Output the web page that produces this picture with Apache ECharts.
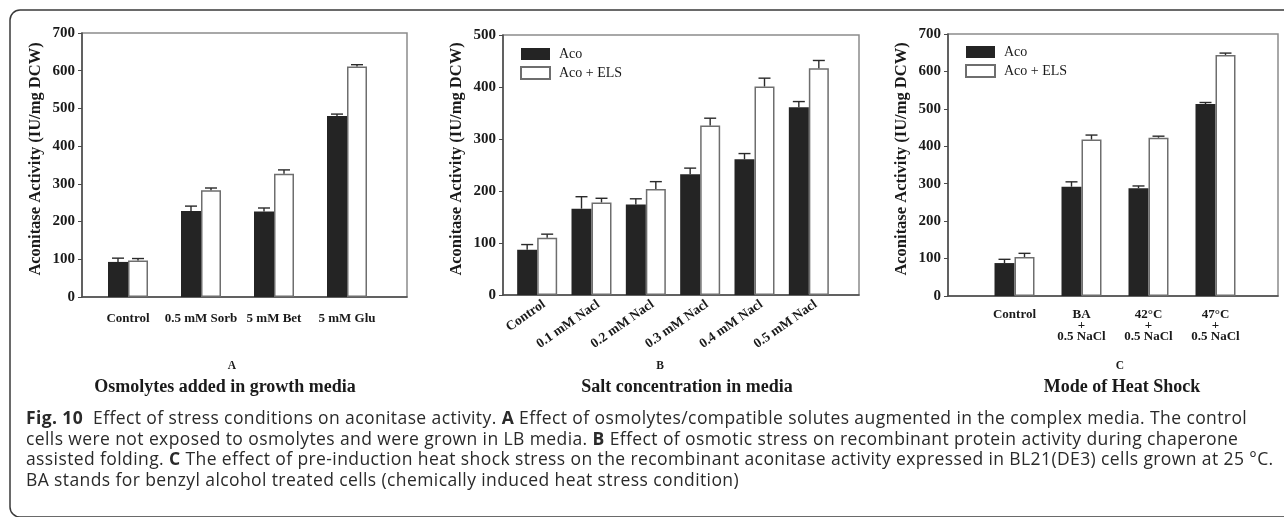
<!DOCTYPE html>
<html>
<head>
<meta charset="utf-8">
<script src="https://cdn.jsdelivr.net/npm/echarts@6/dist/echarts.min.js"></script>
<style>
  html, body { margin: 0; padding: 0; background: #fff; }
  #chart { position: absolute; left: 0; top: 0; width: 1284px; height: 517px; }
  #caption {
    position: absolute; left: 26px; top: 407px;
    font-family: "Open Sans", Lato, sans-serif;
    font-size: 17.5px; letter-spacing: 0.4px; line-height: 20.6px; color: #2a2a2a; white-space: nowrap;
  }
  #caption b { font-weight: bold; }
</style>
</head>
<body>
<div id="chart"></div>
<div id="caption">
  <div><b>Fig. 10</b>&nbsp; Effect of stress conditions on aconitase activity. <b>A</b> Effect of osmolytes/compatible solutes augmented in the complex media. The control</div>
  <div>cells were not exposed to osmolytes and were grown in LB media. <b>B</b> Effect of osmotic stress on recombinant protein activity during chaperone</div>
  <div>assisted folding. <b>C</b> The effect of pre-induction heat shock stress on the recombinant aconitase activity expressed in BL21(DE3) cells grown at 25 °C.</div>
  <div>BA stands for benzyl alcohol treated cells (chemically induced heat stress condition)</div>
</div>
<script>
// Panel A: osmolytes added in growth media
const catsA = ['Control', '0.5 mM Sorb', '5 mM Bet', '5 mM Glu'];
const acoA = [93, 228, 227, 480];
const acoErrA = [10, 13, 9, 5];
const elsA = [97, 283, 327, 611];
const elsErrA = [5, 6, 10, 5];
const ticksA = [0, 700, 100];

// Panel B: salt concentration in media
const catsB = ['Control', '0.1 mM Nacl', '0.2 mM Nacl', '0.3 mM Nacl', '0.4 mM Nacl', '0.5 mM Nacl'];
const acoB = [87, 166, 174, 232, 261, 361];
const acoErrB = [10, 23, 11, 12, 11, 11];
const elsB = [110, 178, 204, 326, 401, 436];
const elsErrB = [7, 8, 14, 14, 16, 15];
const ticksB = [0, 500, 100];

// Panel C: mode of heat shock
const catsC = ['Control', 'BA\n+\n0.5 NaCl', '42°C\n+\n0.5 NaCl', '47°C\n+\n0.5 NaCl'];
const acoC = [88, 292, 288, 513];
const acoErrC = [10, 13, 6, 4];
const elsC = [104, 418, 423, 644];
const elsErrC = [10, 12, 4, 5];
const ticksC = [0, 700, 100];

const seriesNames = ['Aco', 'Aco + ELS'];
const yName = 'Aconitase Activity (IU/mg DCW)';

const SERIF = '"Liberation Serif", "Times New Roman", serif';
const BAR_W = 20;
const CAP_HALF = 6;
const AXIS_COLOR = '#4a4a4a';
const FRAME_COLOR = '#8c8c8c';
const DARK = '#242424';
const TEXT = '#1a1a1a';

// Pixel layout of each panel: frame box, the band that holds the bar groups,
// and a small horizontal shift for the category labels
const panels = [
  { cats: catsA, aco: acoA, acoErr: acoErrA, els: elsA, elsErr: elsErrA, ticks: ticksA,
    frame: { left: 82, top: 33, width: 325, height: 264 },
    band: { left: 91.5, width: 292 }, labelShift: 0,
    labelMargin: 16, rotate: 0, labelSize: 13, legend: null },
  { cats: catsB, aco: acoB, acoErr: acoErrB, els: elsB, elsErr: elsErrB, ticks: ticksB,
    frame: { left: 503, top: 35, width: 356, height: 260 },
    band: { left: 510, width: 326 }, labelShift: 7,
    labelMargin: 8, rotate: 35, labelSize: 13.5, legend: { left: 520, top: 47 } },
  { cats: catsC, aco: acoC, acoErr: acoErrC, els: elsC, elsErr: elsErrC, ticks: ticksC,
    frame: { left: 948, top: 34, width: 330, height: 262 },
    band: { left: 981, width: 268 }, labelShift: 0,
    labelMargin: 13, rotate: 0, labelSize: 13, legend: { left: 965, top: 45 } }
];

const grid = [], xAxis = [], yAxis = [], series = [], legend = [];

function errorSeries(gi, values, errs, offset) {
  return {
    type: 'custom',
    xAxisIndex: gi, yAxisIndex: gi,
    silent: true, z: 5,
    data: values.map((v, i) => [i, v, errs[i]]),
    renderItem: function (params, api) {
      const base = api.coord([api.value(0), api.value(1)]);
      const top = api.coord([api.value(0), api.value(1) + api.value(2)]);
      const x = base[0] + offset;
      const st = { stroke: '#2a2a2a', lineWidth: 1.4 };
      return {
        type: 'group',
        children: [
          { type: 'line', shape: { x1: x, y1: base[1], x2: x, y2: top[1] }, style: st },
          { type: 'line', shape: { x1: x - CAP_HALF, y1: top[1], x2: x + CAP_HALF, y2: top[1] }, style: st }
        ]
      };
    }
  };
}

panels.forEach((p, k) => {
  const fi = k * 3, bi = k * 3 + 1, li = k * 3 + 2;
  // frame grid: y scale, axis lines and grey box
  grid.push({ left: p.frame.left, top: p.frame.top, width: p.frame.width, height: p.frame.height,
    show: true, borderColor: FRAME_COLOR, borderWidth: 1.5, backgroundColor: 'transparent' });
  // band grid: where the grouped bars sit
  grid.push({ left: p.band.left, top: p.frame.top, width: p.band.width, height: p.frame.height });
  // label grid: category names under each group
  grid.push({ left: p.band.left + p.labelShift, top: p.frame.top, width: p.band.width, height: p.frame.height });

  xAxis.push({ gridIndex: fi, type: 'value', min: 0, max: 1,
    axisLine: { show: true, lineStyle: { color: AXIS_COLOR, width: 1.5 } },
    axisTick: { show: false }, axisLabel: { show: false }, splitLine: { show: false } });
  xAxis.push({ gridIndex: bi, type: 'category', data: p.cats,
    axisLine: { show: false }, axisTick: { show: false }, axisLabel: { show: false } });
  xAxis.push({ gridIndex: li, type: 'category', data: p.cats,
    axisLine: { show: false }, axisTick: { show: false },
    axisLabel: { interval: 0, rotate: p.rotate, margin: p.labelMargin,
      fontFamily: SERIF, fontWeight: 'bold', fontSize: p.labelSize, color: TEXT, lineHeight: 11 } });

  yAxis.push({ gridIndex: fi, type: 'value', min: p.ticks[0], max: p.ticks[1], interval: p.ticks[2],
    name: yName, nameLocation: 'middle', nameGap: 38,
    nameTextStyle: { fontFamily: SERIF, fontWeight: 'bold', fontSize: 16.5, color: TEXT,
      padding: [0, 0, 0, 12] },
    axisLine: { show: true, lineStyle: { color: AXIS_COLOR, width: 1.5 } },
    axisTick: { show: true, inside: false, length: 4, lineStyle: { color: AXIS_COLOR } },
    axisLabel: { margin: 7, fontFamily: SERIF, fontWeight: 'bold', fontSize: 15, color: TEXT },
    splitLine: { show: false } });
  yAxis.push({ gridIndex: bi, type: 'value', min: p.ticks[0], max: p.ticks[1], interval: p.ticks[2],
    show: false, splitLine: { show: false } });
  yAxis.push({ gridIndex: li, type: 'value', min: p.ticks[0], max: p.ticks[1], interval: p.ticks[2],
    show: false, splitLine: { show: false } });

  series.push({ name: seriesNames[0], type: 'bar', xAxisIndex: bi, yAxisIndex: bi,
    data: p.aco, barWidth: BAR_W, barGap: '0%',
    itemStyle: { color: DARK, borderColor: DARK, borderWidth: 0 } });
  series.push({ name: seriesNames[1], type: 'bar', xAxisIndex: bi, yAxisIndex: bi,
    data: p.els, barWidth: BAR_W, barGap: '0%',
    itemStyle: { color: '#ffffff', borderColor: '#6e6e6e', borderWidth: 1.5 } });
  series.push(errorSeries(bi, p.aco, p.acoErr, -BAR_W / 2));
  series.push(errorSeries(bi, p.els, p.elsErr, BAR_W / 2));

  if (p.legend) {
    legend.push({ left: p.legend.left, top: p.legend.top, orient: 'vertical', padding: 0,
      data: seriesNames, icon: 'rect', itemWidth: 29, itemHeight: 12, itemGap: 5,
      selectedMode: false,
      textStyle: { fontFamily: SERIF, fontSize: 14, color: TEXT, padding: [0, 0, 0, 4] } });
  }
});

// panel letters and titles below each chart
const panelTitles = [
  { letter: 'A', lx: 232, title: 'Osmolytes added in growth media', tx: 225 },
  { letter: 'B', lx: 660, title: 'Salt concentration in media', tx: 687 },
  { letter: 'C', lx: 1120, title: 'Mode of Heat Shock', tx: 1122 }
];
const graphic = [
  { type: 'rect', silent: true, shape: { x: 10, y: 10, width: 1300, height: 507, r: 10 },
    style: { fill: 'none', stroke: '#3a3a3a', lineWidth: 1.5 } }
];
panelTitles.forEach(t => {
  graphic.push({ type: 'text', x: t.lx, y: 366, silent: true,
    style: { text: t.letter, fontFamily: SERIF, fontWeight: 'bold', fontSize: 11.5,
      fill: TEXT, textAlign: 'center', textVerticalAlign: 'middle' } });
  graphic.push({ type: 'text', x: t.tx, y: 387, silent: true,
    style: { text: t.title, fontFamily: SERIF, fontWeight: 'bold', fontSize: 18,
      fill: TEXT, textAlign: 'center', textVerticalAlign: 'middle' } });
});

const chart = echarts.init(document.getElementById('chart'), null, { renderer: 'canvas' });
chart.setOption({
  animation: false,
  backgroundColor: '#ffffff',
  grid, xAxis, yAxis, series, legend, graphic
});
</script>
</body>
</html>
